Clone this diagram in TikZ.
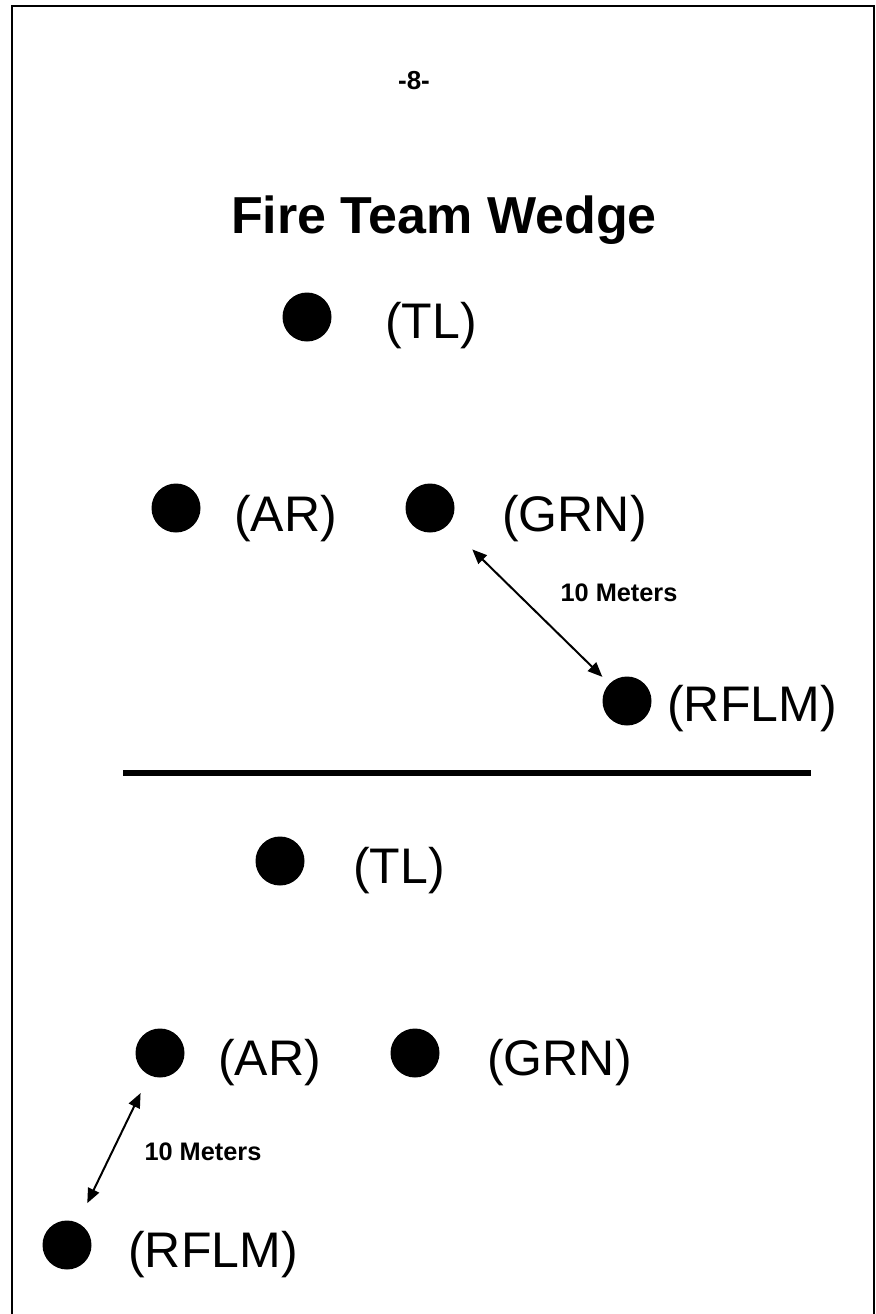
\documentclass[tikz,border=0pt]{standalone}
\usepackage{fontspec}
\setmainfont{Liberation Sans}
\usetikzlibrary{arrows.meta}

\begin{document}
\begin{tikzpicture}[x=0.75pt, y=-0.75pt,
    man/.style={circle, fill=black, inner sep=0pt, outer sep=0pt, minimum size=36.75pt},
    role/.style={anchor=base west, inner sep=0pt, font=\fontsize{37.5}{45}\selectfont},
    dist/.style={anchor=base, inner sep=0pt, font=\fontsize{19}{23}\selectfont\bfseries},
    gap/.style={{Triangle[length=11pt, width=9pt]}-{Triangle[length=11pt, width=9pt]}, line width=1.5pt}]
    \useasboundingbox (0,0) rectangle (875,1314);
    %page frame
    \draw[line width=1.5pt] (11.5,1314) |- (874,5.5) -- (874,1314);
    \node[dist, font=\fontsize{19.5}{23}\selectfont\bfseries](page) at (414,89) {-8-};
    \node[anchor=base, inner sep=0pt, font=\fontsize{39}{47}\selectfont\bfseries](title) at (444,233) {Fire Team Wedge};

    %wedge, right side
    \node[man](tl1) at (307,317) {};
    \node[role](tl1l) at (385,338) {(TL)};
    \node[man](ar1) at (176,508) {};
    \node[role](ar1l) at (234,531) {(AR)};
    \node[man](grn1) at (430,508) {};
    \node[role](grn1l) at (502,531) {(GRN)};
    \node[man](rf1) at (627,701) {};
    \node[role](rf1l) at (667,721) {(RFLM)};
    \draw[gap, shorten <=26pt, shorten >=7.5pt] (grn1) -- (rf1);
    \node[dist](m1) at (619,601) {10 Meters};

    \coordinate (sl) at (123,773);
    \coordinate (sr) at (811,773);
    \draw[line width=4.5pt] (sl) -- (sr);

    %wedge, left side
    \node[man](tl2) at (280,861) {};
    \node[role](tl2l) at (353,883) {(TL)};
    \node[man](ar2) at (160,1053) {};
    \node[role](ar2l) at (218,1075) {(AR)};
    \node[man](grn2) at (415,1053) {};
    \node[role](grn2l) at (487,1075) {(GRN)};
    \node[man](rf2) at (67,1245) {};
    \node[role](rf2l) at (128,1267) {(RFLM)};
    \draw[gap, shorten <=15pt, shorten >=16.5pt] (ar2) -- (rf2);
    \node[dist](m2) at (203,1160) {10 Meters};
\end{tikzpicture}
\end{document}
